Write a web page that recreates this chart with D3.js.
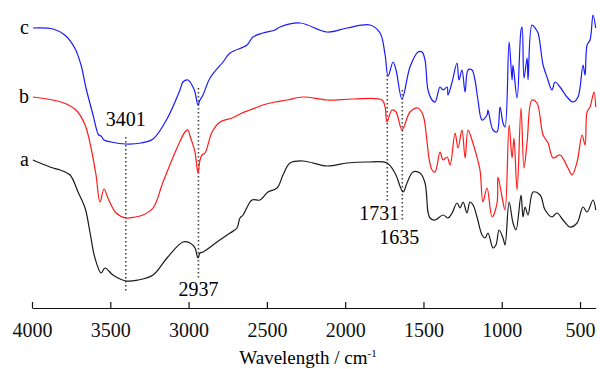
<!DOCTYPE html>
<html>
<head>
<meta charset="utf-8">
<script src="https://cdn.jsdelivr.net/npm/d3@7"></script>
<style>
  body { margin: 0; background: #fff; }
  svg text { font-family: "Liberation Serif", "Times New Roman", "DejaVu Serif", serif; }
</style>
</head>
<body>
<div id="root"></div>
<script>
const width = 600;
const height = 369;
const serif = "Liberation Serif, Times New Roman, DejaVu Serif, serif";

// spectrum c (top, blue)
const waveC = [3994, 3866, 3791, 3727, 3687, 3655, 3610, 3574, 3559, 3540, 3495, 3400, 3304, 3227, 3138, 3055, 3036, 3004, 2991, 2972, 2959, 2940, 2927, 2908, 2863, 2780, 2735, 2627, 2589, 2525, 2448, 2416, 2288, 2116, 1988, 1841, 1777, 1745, 1726, 1694, 1675, 1637, 1586, 1535, 1509, 1490, 1471, 1445, 1426, 1394, 1375, 1349, 1343, 1317, 1286, 1273, 1254, 1234, 1215, 1190, 1171, 1152, 1126, 1094, 1088, 1056, 1030, 1011, 992, 979, 953, 934, 928, 902, 877, 870, 858, 838, 832, 807, 787, 768, 736, 711, 679, 660, 628, 583, 545, 513, 481, 468, 455, 436, 417, 400];
const transC = [280, 279, 273, 260, 243, 220, 193, 173, 172, 168, 166, 164, 165, 169, 189, 218, 226, 228, 226, 221, 216, 203, 208, 213, 230, 246, 255, 263, 271, 275, 278, 281, 285, 276, 280, 283, 275, 253, 232, 246, 238, 209, 241, 256, 256, 248, 218, 208, 206, 221, 218, 221, 213, 226, 245, 228, 238, 216, 238, 238, 228, 208, 188, 193, 198, 178, 176, 201, 185, 181, 266, 228, 243, 210, 278, 281, 230, 250, 228, 283, 280, 275, 243, 231, 218, 226, 221, 211, 206, 211, 243, 233, 263, 268, 293, 280];

// spectrum b (middle, red)
const waveB = [3994, 3815, 3719, 3661, 3623, 3591, 3566, 3540, 3515, 3463, 3400, 3342, 3291, 3227, 3163, 3074, 3023, 3004, 2991, 2978, 2959, 2940, 2927, 2914, 2895, 2850, 2799, 2722, 2659, 2608, 2525, 2448, 2371, 2269, 2116, 1950, 1765, 1745, 1733, 1701, 1675, 1637, 1586, 1535, 1503, 1477, 1465, 1445, 1426, 1394, 1375, 1349, 1330, 1298, 1279, 1254, 1234, 1215, 1190, 1171, 1139, 1120, 1094, 1062, 1030, 1024, 998, 979, 953, 934, 922, 902, 877, 858, 838, 807, 775, 736, 704, 672, 628, 577, 551, 519, 487, 468, 455, 436, 411, 400];
const transB = [211, 206, 198, 183, 160, 133, 106, 119, 110, 95, 90, 91, 93, 100, 126, 160, 176, 178, 172, 166, 156, 135, 148, 153, 155, 176, 186, 190, 195, 198, 203, 206, 208, 211, 208, 209, 208, 201, 186, 198, 196, 178, 196, 200, 193, 166, 150, 138, 136, 156, 148, 151, 143, 175, 160, 178, 150, 178, 168, 158, 138, 106, 120, 91, 105, 131, 111, 98, 183, 150, 170, 118, 200, 140, 166, 208, 205, 173, 165, 150, 153, 140, 133, 146, 173, 163, 196, 201, 216, 201];

// spectrum a (bottom, black)
const waveA = [3994, 3917, 3866, 3821, 3757, 3706, 3661, 3630, 3598, 3559, 3534, 3483, 3400, 3323, 3227, 3138, 3036, 2991, 2959, 2940, 2927, 2908, 2818, 2735, 2691, 2672, 2652, 2595, 2544, 2493, 2435, 2397, 2352, 2269, 2116, 1988, 1860, 1733, 1682, 1630, 1605, 1567, 1522, 1490, 1471, 1458, 1426, 1375, 1343, 1317, 1286, 1266, 1247, 1222, 1203, 1183, 1158, 1126, 1107, 1088, 1056, 1037, 1017, 992, 979, 953, 928, 909, 877, 864, 851, 832, 800, 755, 723, 679, 647, 609, 564, 519, 481, 455, 417, 400];
const transA = [148, 143, 140, 138, 133, 116, 100, 76, 50, 35, 40, 33, 27, 28, 33, 50, 66, 65, 60, 50, 55, 56, 66, 75, 80, 90, 93, 108, 108, 116, 120, 133, 145, 147, 142, 145, 146, 145, 135, 116, 125, 136, 135, 125, 96, 90, 88, 93, 90, 95, 105, 100, 106, 95, 106, 103, 91, 73, 70, 75, 60, 63, 78, 70, 63, 106, 85, 78, 113, 91, 101, 93, 116, 113, 98, 91, 95, 88, 81, 85, 101, 96, 108, 98];

const seriesNames = ["a", "b", "c"];
const seriesColors = ["#1a1a1a", "#ff1a1a", "#1a1aff"];

const xTicks = [4000, 3500, 3000, 2500, 2000, 1500, 1000, 500];
const peaks = [3401, 2937, 1731, 1635];
// dotted guide spans in transmittance units [top, bottom]
const peakSpans = [[171, 16], [220, 30], [233, 106], [218, 86]];

const svg = d3.select("#root")
  .append("svg")
    .attr("width", width)
    .attr("height", height);

const x = d3.scaleLinear()
  .domain([4000, 400])
  .range([32, 595.7]);

const y = d3.scaleLinear()
  .domain([0, 300])
  .range([308, 8]);

// dotted guide lines
svg.append("g")
  .selectAll("line")
  .data(peaks)
  .enter()
  .append("line")
    .attr("x1", d => x(d))
    .attr("x2", d => x(d))
    .attr("y1", (d, i) => y(peakSpans[i][0]))
    .attr("y2", (d, i) => y(peakSpans[i][1]))
    .attr("stroke", "#444")
    .attr("stroke-width", 1.6)
    .attr("stroke-dasharray", "1.4,2.6");

// spectra
const lineGen = d3.line()
  .x(d => x(d[0]))
  .y(d => y(d[1]))
  .curve(d3.curveCatmullRom.alpha(0.5));

const spectra = [
  d3.zip(waveA, transA),
  d3.zip(waveB, transB),
  d3.zip(waveC, transC)
];

svg.append("g")
  .selectAll("path")
  .data(spectra)
  .enter()
  .append("path")
    .attr("d", lineGen)
    .attr("fill", "none")
    .attr("stroke", (d, i) => seriesColors[i])
    .attr("stroke-width", 1.2)
    .attr("stroke-linejoin", "round");

// series letters at the left end
svg.append("g")
  .selectAll("text")
  .data(spectra)
  .enter()
  .append("text")
    .attr("x", 29)
    .attr("y", d => y(d[0][1]) + 6)
    .attr("text-anchor", "end")
    .attr("font-family", serif)
    .attr("font-size", 20)
    .text((d, i) => seriesNames[i]);

// peak labels
const peakLabelPos = [[0, -11], [0, 18], [-8, 18], [-3, 22]];
svg.append("g")
  .selectAll("text")
  .data(peaks)
  .enter()
  .append("text")
    .attr("x", (d, i) => x(d) + peakLabelPos[i][0])
    .attr("y", (d, i) => y(peakSpans[i][i === 0 ? 0 : 1]) + peakLabelPos[i][1])
    .attr("text-anchor", "middle")
    .attr("font-family", serif)
    .attr("font-size", 20)
    .text(d => d);

// x axis
const xAxis = svg.append("g")
  .attr("transform", "translate(0,308)")
  .call(d3.axisBottom(x)
    .tickValues(xTicks)
    .tickSizeInner(-6)
    .tickSizeOuter(0)
    .tickPadding(15)
    .tickFormat(d3.format("d")));

xAxis.attr("font-family", serif);
xAxis.select(".domain").attr("stroke", "#111").attr("stroke-width", 1.2);
xAxis.selectAll(".tick line").attr("stroke", "#111").attr("stroke-width", 1.2);
xAxis.selectAll(".tick text")
  .attr("font-family", serif)
  .attr("font-size", 20)
  .attr("fill", "#111");

// axis title
const title = svg.append("text")
  .attr("x", 308)
  .attr("y", 364)
  .attr("text-anchor", "middle")
  .attr("font-family", serif)
  .attr("font-size", 19);
title.append("tspan").text("Wavelength / cm");
title.append("tspan").attr("dy", -7).attr("font-size", 11).text("-1");
</script>
</body>
</html>
